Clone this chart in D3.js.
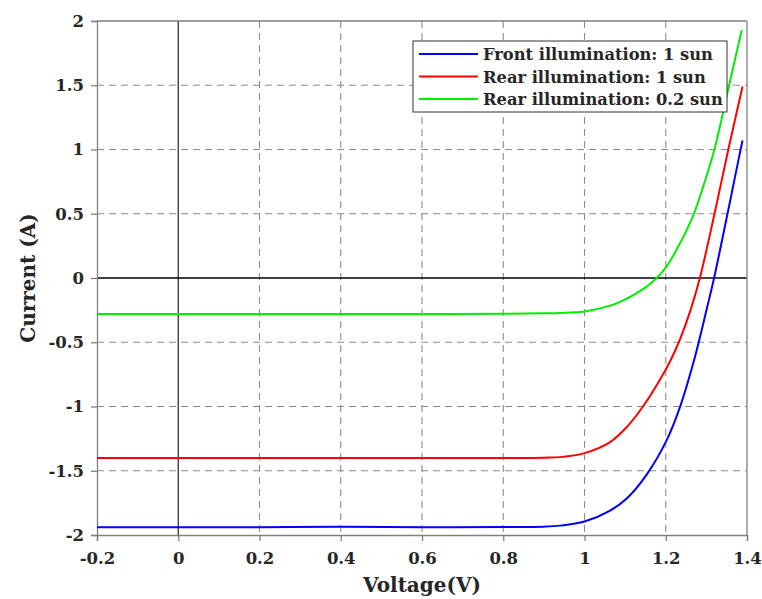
<!DOCTYPE html>
<html>
<head>
<meta charset="utf-8">
<script src="https://cdn.jsdelivr.net/npm/d3@7"></script>
<style>
  body { margin: 0; background: #fff; }
  svg text { font-family: "DejaVu Serif", serif; font-weight: bold; fill: #262626; }
</style>
</head>
<body>
<svg id="chart" width="762" height="599"></svg>
<script>
// I-V curves of a bifacial cell under three illumination conditions
const xTicks = [-0.2, 0, 0.2, 0.4, 0.6, 0.8, 1, 1.2, 1.4];
const yTicks = [-2, -1.5, -1, -0.5, 0, 0.5, 1, 1.5, 2];

const frontV = [-0.2, 0, 0.2, 0.4, 0.6, 0.8, 0.9, 0.94, 1.0, 1.063, 1.104, 1.153, 1.202, 1.235, 1.268, 1.285, 1.301, 1.319, 1.352, 1.381, 1.389];
const frontI = [-1.94, -1.94, -1.94, -1.935, -1.94, -1.938, -1.935, -1.927, -1.895, -1.81, -1.716, -1.53, -1.264, -1.005, -0.66, -0.45, -0.24, 0, 0.5, 0.95, 1.07];

const rear1V = [-0.2, 0, 0.2, 0.4, 0.6, 0.8, 0.9, 0.94, 1.0, 1.063, 1.104, 1.144, 1.186, 1.212, 1.236, 1.26, 1.284, 1.32, 1.354, 1.389];
const rear1I = [-1.40, -1.40, -1.40, -1.40, -1.40, -1.40, -1.398, -1.394, -1.363, -1.277, -1.16, -1.0, -0.79, -0.64, -0.47, -0.26, 0, 0.5, 1.0, 1.49];

const rear02V = [-0.2, 0, 0.2, 0.4, 0.6, 0.8, 0.9, 0.94, 1.0, 1.063, 1.104, 1.145, 1.178, 1.202, 1.235, 1.268, 1.293, 1.319, 1.337, 1.356, 1.387];
const rear02I = [-0.28, -0.28, -0.28, -0.28, -0.28, -0.278, -0.275, -0.272, -0.26, -0.215, -0.16, -0.085, 0, 0.09, 0.27, 0.49, 0.72, 0.99, 1.23, 1.5, 1.93];

const seriesNames = ["Front illumination: 1 sun", "Rear illumination: 1 sun", "Rear illumination: 0.2 sun"];
const seriesColors = ["#0000ff", "#ff0000", "#00ee00"];

const series = [
  { name: seriesNames[0], color: seriesColors[0], v: frontV, i: frontI },
  { name: seriesNames[1], color: seriesColors[1], v: rear1V, i: rear1I },
  { name: seriesNames[2], color: seriesColors[2], v: rear02V, i: rear02I }
];

const svg = d3.select("#chart");
const L = 97, R = 747, T = 21, B = 535;

const x = d3.scaleLinear().domain([-0.2, 1.4]).range([L, R]);
const y = d3.scaleLinear().domain([-2, 2]).range([B, T]);

const fmt = d => (d === 0 ? "0" : String(d));

// dashed grid
const grid = svg.append("g");
grid.selectAll("line.gx").data(xTicks.filter(d => d > -0.2 && d < 1.4 && d !== 0)).join("line")
  .attr("x1", d => x(d)).attr("x2", d => x(d)).attr("y1", T).attr("y2", B)
  .attr("stroke", "#8c8c8c").attr("stroke-width", 1.1).attr("stroke-dasharray", "7,5");
grid.selectAll("line.gy").data(yTicks.filter(d => d > -2 && d < 2 && d !== 0)).join("line")
  .attr("x1", L).attr("x2", R).attr("y1", d => y(d)).attr("y2", d => y(d))
  .attr("stroke", "#8c8c8c").attr("stroke-width", 1.1).attr("stroke-dasharray", "7,5");

// zero lines
svg.append("line").attr("x1", x(0)).attr("x2", x(0)).attr("y1", T).attr("y2", B)
  .attr("stroke", "#333").attr("stroke-width", 1.3);
svg.append("line").attr("x1", L).attr("x2", R).attr("y1", y(0)).attr("y2", y(0))
  .attr("stroke", "#000").attr("stroke-width", 1.3);

// axes
const xAxis = svg.append("g").attr("transform", `translate(0,${B})`)
  .call(d3.axisBottom(x).tickValues(xTicks).tickFormat(fmt).tickSize(6).tickPadding(11));
const yAxis = svg.append("g").attr("transform", `translate(${L},0)`)
  .call(d3.axisLeft(y).tickValues(yTicks).tickFormat(fmt).tickSize(6).tickPadding(7));
[xAxis, yAxis].forEach(g => {
  g.select(".domain").attr("stroke", "#808080").attr("stroke-width", 1.3);
  g.selectAll(".tick line").attr("stroke", "#808080").attr("stroke-width", 1.3);
  g.selectAll(".tick text").attr("font-size", 16.5).attr("fill", "#262626")
    .style("font-family", "DejaVu Serif").style("font-weight", "bold");
});

// top and right frame
svg.append("line").attr("x1", L).attr("x2", R).attr("y1", T).attr("y2", T).attr("stroke", "#808080").attr("stroke-width", 1.3);
svg.append("line").attr("x1", R).attr("x2", R).attr("y1", T).attr("y2", B).attr("stroke", "#808080").attr("stroke-width", 1.3);

// curves
const line = d3.line().x(d => x(d[0])).y(d => y(d[1])).curve(d3.curveCatmullRom.alpha(0.5));
series.forEach(s => {
  svg.append("path").datum(s.v.map((v, k) => [v, s.i[k]]))
    .attr("d", line).attr("fill", "none").attr("stroke", s.color).attr("stroke-width", 2);
});

// axis titles
svg.append("text").attr("x", (L + R) / 2).attr("y", 592).attr("text-anchor", "middle")
  .attr("font-size", 20).text("Voltage(V)");
svg.append("text").attr("transform", `translate(35,${(T + B) / 2}) rotate(-90)`)
  .attr("text-anchor", "middle").attr("font-size", 20).text("Current (A)");

// legend
const lg = svg.append("g");
lg.append("rect").attr("x", 413).attr("y", 41).attr("width", 314).attr("height", 71)
  .attr("fill", "#fff").attr("stroke", "#333").attr("stroke-width", 1);
series.forEach((s, k) => {
  const yy = 54 + k * 22.5;
  lg.append("line").attr("x1", 419).attr("x2", 478).attr("y1", yy).attr("y2", yy)
    .attr("stroke", s.color).attr("stroke-width", 2);
  lg.append("text").attr("x", 483).attr("y", yy + 6).attr("font-size", 16.3).text(s.name);
});
</script>
</body>
</html>
